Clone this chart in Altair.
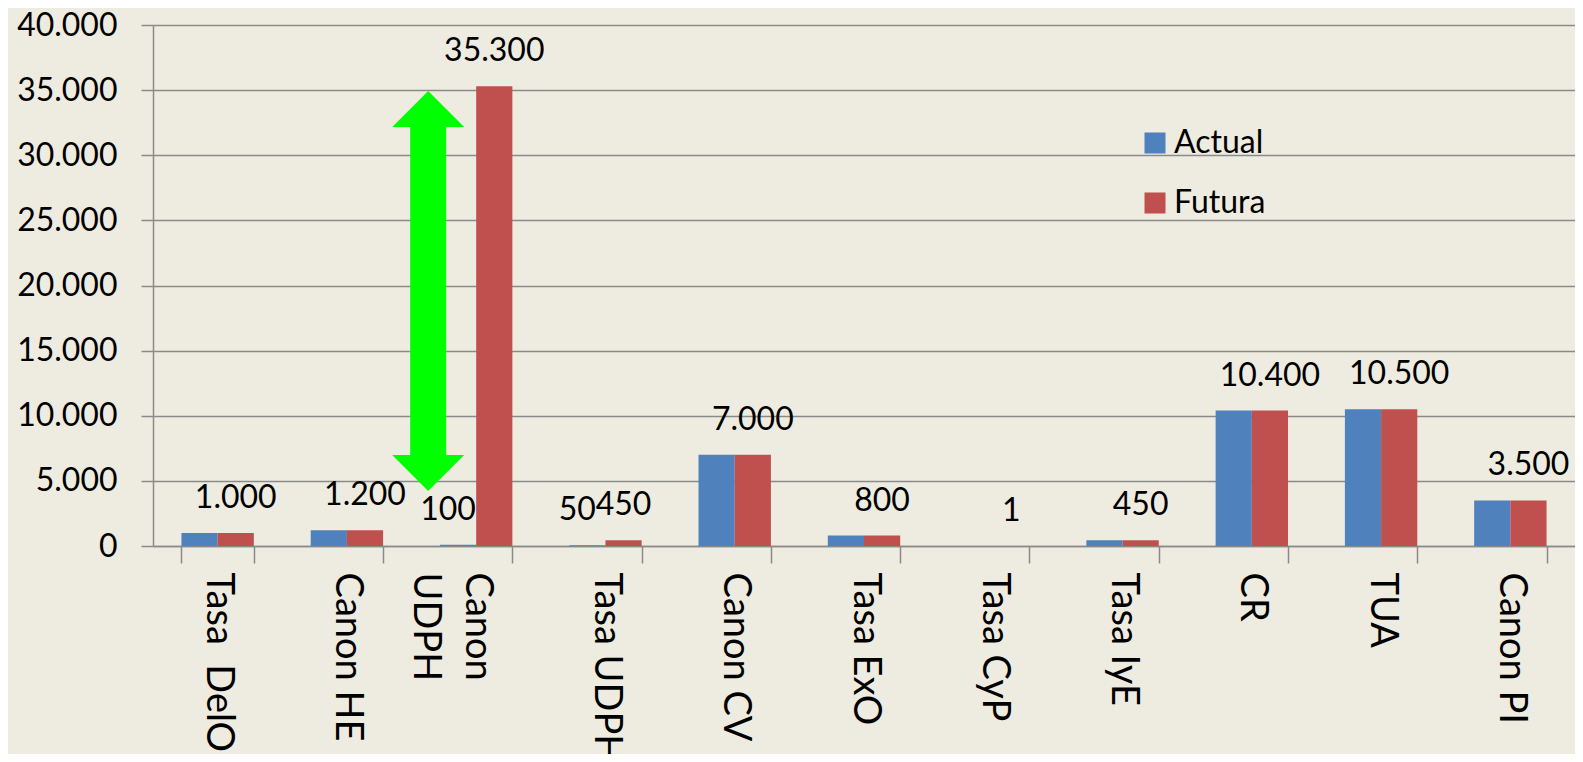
import altair as alt
import pandas as pd

categories = ["Tasa\u00a0 DelO", "Canon HE", "Canon UDPH", "Tasa UDPH", "Canon CV",
              "Tasa ExO", "Tasa CyP", "Tasa IyE", "CR", "TUA", "Canon PI"]
actual = [1000, 1200, 100, 50, 7000, 800, 1, 450, 10400, 10500, 3500]
futura = [1000, 1200, 35300, 450, 7000, 800, 1, 450, 10400, 10500, 3500]
actual_label_shown = [False, False, True, True, False, False, False, False, False, False, False]
series = ["Actual", "Futura"]
colors = ["#4F81BD", "#C0504D"]
y_ticks = [0, 5000, 10000, 15000, 20000, 25000, 30000, 35000, 40000]

arrow_category = "Canon UDPH"
arrow_top = 34930
arrow_bottom = 4220

rows = []
for c, a, f, s in zip(categories, actual, futura, actual_label_shown):
    rows.append({"category": c, "series": "Actual", "value": a, "show": s})
    rows.append({"category": c, "series": "Futura", "value": f, "show": True})
df = pd.DataFrame(rows)

arrow_df = pd.DataFrame([{"category": arrow_category, "mid": (arrow_top + arrow_bottom) / 2}])

FONT = "Lato"
GRID = "#8a8a8a"
fmt = "replace(format(datum.value, ','), ',', '.')"

x_enc = alt.X(
    "category:N", sort=categories,
    scale=alt.Scale(paddingInner=0.44, paddingOuter=0.22),
    axis=alt.Axis(
        title=None, labelAngle=90, labelFont=FONT, labelFontSize=38,
        labelColor="black", labelPadding=9, tickBand="extent", tickSize=17,
        tickColor=GRID, tickWidth=1.5, domainColor=GRID, domainWidth=1.5,
        labelLineHeight=52, grid=False, labelOverlap=False, labelLimit=0,
        labelExpr="datum.value == 'Canon UDPH' ? ['Canon', 'UDPH'] : datum.value",
    ),
)
y_enc = alt.Y(
    "value:Q", scale=alt.Scale(domain=[0, 40000], nice=False),
    axis=alt.Axis(
        title=None, values=y_ticks, labelExpr=fmt, labelFont=FONT, labelFontSize=32,
        labelColor="black", tickSize=12, tickColor=GRID, tickWidth=1.5,
        domainColor=GRID, domainWidth=1.5, gridColor=GRID, gridWidth=1.5,
        labelPadding=24,
    ),
)

base = alt.Chart(df)

bars = base.mark_bar().encode(
    x=x_enc,
    xOffset=alt.XOffset("series:N", sort=series),
    y=y_enc,
    color=alt.Color(
        "series:N", scale=alt.Scale(domain=series, range=colors),
        legend=alt.Legend(
            title=None, orient="none", legendX=986, legendY=102,
            symbolType="square", symbolSize=441, symbolStrokeWidth=0,
            labelFont=FONT, labelFontSize=32, labelColor="black",
            rowPadding=28, labelOffset=3,
        ),
    ),
)

fut_labels = base.transform_filter("datum.series == 'Futura'").transform_calculate(
    lbl="replace(format(datum.value, ','), ',', '.')"
).mark_text(baseline="bottom", dy=-18, font=FONT, fontSize=32, color="black").encode(
    x=alt.X("category:N", sort=categories),
    xOffset=alt.XOffset("series:N", sort=series),
    y="value:Q",
    text="lbl:N",
)

act_labels = base.transform_filter("datum.series == 'Actual' && datum.show").transform_calculate(
    lbl="replace(format(datum.value, ','), ',', '.')"
).mark_text(baseline="bottom", dy=-18, dx=-10, font=FONT, fontSize=32, color="black").encode(
    x=alt.X("category:N", sort=categories),
    xOffset=alt.XOffset("series:N", sort=series),
    y="value:Q",
    text="lbl:N",
)

arrow_path = ("M -0.24 -1 L -0.06 -0.82 L -0.15 -0.82 L -0.15 0.82 L -0.06 0.82 "
              "L -0.24 1 L -0.42 0.82 L -0.33 0.82 L -0.33 -0.82 L -0.42 -0.82 Z")
arrow = alt.Chart(arrow_df).mark_point(
    shape=arrow_path, size=160000, filled=True, fill="#00FF00", opacity=1, strokeWidth=0
).encode(
    x=alt.X("category:N", sort=categories),
    y="mid:Q",
)

chart = alt.layer(bars, fut_labels, act_labels, arrow).properties(
    width=1422, height=521,
    autosize=alt.AutoSizeParams(type="none"),
    padding={"left": 145, "top": 17, "right": 0, "bottom": 208},
    background="#EEECE1",
).configure_view(stroke=None)

chart.save("out.html", embed_options={"renderer": "svg", "actions": False})
